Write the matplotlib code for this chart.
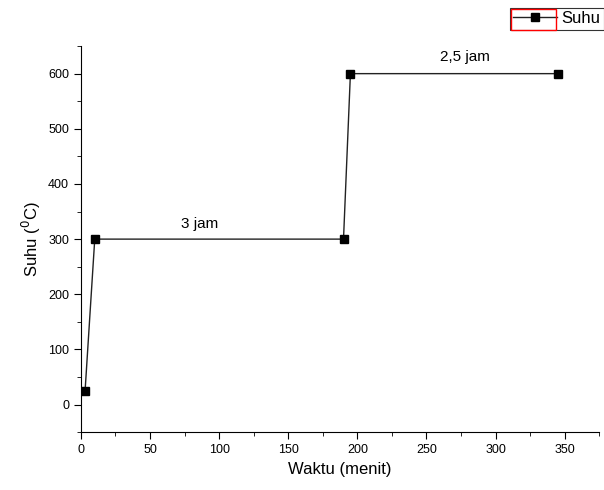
import matplotlib
matplotlib.use('Agg')
import matplotlib.pyplot as plt
from matplotlib.patches import Rectangle

# data
waktu = [3, 10, 190, 195, 345]
suhu = [25, 300, 300, 600, 600]
labels = [("3 jam", 86, 328), ("2,5 jam", 278, 631)]

plt.rcParams['font.family'] = ['Liberation Sans', 'DejaVu Sans']

fig = plt.figure(figsize=(6.04, 4.9), dpi=100)
ax = fig.add_axes([0.134, 0.118, 0.858, 0.788])

ax.plot(waktu, suhu, color='#222222', lw=1.0, marker='s', ms=6,
        mfc='black', mec='black', label='Suhu')

for txt, x, y in labels:
    ax.text(x, y, txt, ha='center', va='center', fontsize=11)

ax.set_xlim(0, 375)
ax.set_ylim(-50, 650)
ax.set_xticks(range(0, 351, 50))
ax.set_yticks(range(0, 601, 100))
ax.set_xticks(range(0, 376, 25), minor=True)
ax.set_yticks(range(-50, 651, 50), minor=True)
ax.tick_params(which='major', direction='out', length=5, labelsize=9)
ax.tick_params(which='minor', direction='out', length=3)

for s in ['top', 'right']:
    ax.spines[s].set_visible(False)

ax.set_xlabel("Waktu (menit)", fontsize=12)
ax.set_ylabel("Suhu ($^0$C)", fontsize=12)

leg = fig.legend(loc='upper left', bbox_to_anchor=(510 / 604, 1 - 8 / 490), fontsize=12,
                 frameon=True, fancybox=False, edgecolor='black',
                 handlelength=2.6, borderpad=0.2, handletextpad=0.3, borderaxespad=0)
leg.get_frame().set_linewidth(0.8)

red_box = Rectangle((511 / 604, 1 - 30 / 490), 45 / 604, 21 / 490,
                    transform=fig.transFigure, fill=False,
                    edgecolor='red', lw=1.0, zorder=10)
fig.add_artist(red_box)

plt.savefig('out.png', dpi=100)
